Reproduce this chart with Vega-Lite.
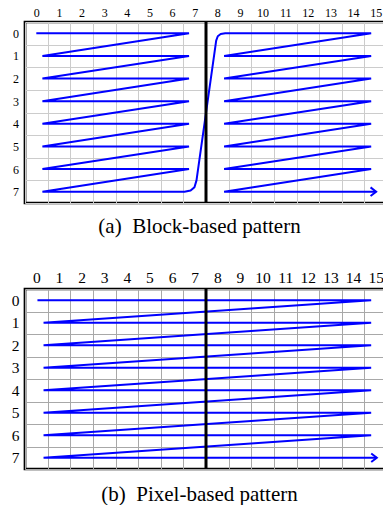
{
  "$schema": "https://vega.github.io/schema/vega-lite/v6.json",
  "padding": {"left": 9, "top": 5, "right": 0, "bottom": 0},
  "autosize": {"type": "pad"},
  "background": "white",
  "bounds": "flush",
  "spacing": 86,
  "config": {
    "font": "Liberation Serif",
    "view": {"stroke": "black", "strokeWidth": 2.7},
    "axis": {"labelFont": "Liberation Serif"},
    "title": {"font": "Liberation Serif", "fontWeight": "normal", "color": "black"}
  },
  "datasets": {
    "blockPath": [
      {"i": 0, "x": 0, "y": 0}, {"i": 1, "x": 6.75, "y": 0},
      {"i": 2, "x": 0.27, "y": 1}, {"i": 3, "x": 6.75, "y": 1},
      {"i": 4, "x": 0.27, "y": 2}, {"i": 5, "x": 6.75, "y": 2},
      {"i": 6, "x": 0.27, "y": 3}, {"i": 7, "x": 6.75, "y": 3},
      {"i": 8, "x": 0.27, "y": 4}, {"i": 9, "x": 6.75, "y": 4},
      {"i": 10, "x": 0.27, "y": 5}, {"i": 11, "x": 6.75, "y": 5},
      {"i": 12, "x": 0.27, "y": 6}, {"i": 13, "x": 6.75, "y": 6},
      {"i": 14, "x": 0.27, "y": 7}, {"i": 15, "x": 6.55, "y": 7},
      {"i": 16, "x": 6.82, "y": 6.95}, {"i": 17, "x": 6.99, "y": 6.8},
      {"i": 18, "x": 7.08, "y": 6.5}, {"i": 19, "x": 7.95, "y": 0.32},
      {"i": 20, "x": 8.02, "y": 0.13}, {"i": 21, "x": 8.15, "y": 0.03},
      {"i": 22, "x": 8.35, "y": 0}, {"i": 23, "x": 14.8, "y": 0},
      {"i": 24, "x": 8.3, "y": 1}, {"i": 25, "x": 14.8, "y": 1},
      {"i": 26, "x": 8.3, "y": 2}, {"i": 27, "x": 14.8, "y": 2},
      {"i": 28, "x": 8.3, "y": 3}, {"i": 29, "x": 14.8, "y": 3},
      {"i": 30, "x": 8.3, "y": 4}, {"i": 31, "x": 14.8, "y": 4},
      {"i": 32, "x": 8.3, "y": 5}, {"i": 33, "x": 14.8, "y": 5},
      {"i": 34, "x": 8.3, "y": 6}, {"i": 35, "x": 14.8, "y": 6},
      {"i": 36, "x": 8.3, "y": 7}, {"i": 37, "x": 15.02, "y": 7}
    ],
    "pixelPath": [
      {"i": 0, "x": 0.05, "y": 0}, {"i": 1, "x": 14.8, "y": 0},
      {"i": 2, "x": 0.32, "y": 1}, {"i": 3, "x": 14.8, "y": 1},
      {"i": 4, "x": 0.32, "y": 2}, {"i": 5, "x": 14.8, "y": 2},
      {"i": 6, "x": 0.32, "y": 3}, {"i": 7, "x": 14.8, "y": 3},
      {"i": 8, "x": 0.32, "y": 4}, {"i": 9, "x": 14.8, "y": 4},
      {"i": 10, "x": 0.32, "y": 5}, {"i": 11, "x": 14.8, "y": 5},
      {"i": 12, "x": 0.32, "y": 6}, {"i": 13, "x": 14.8, "y": 6},
      {"i": 14, "x": 0.32, "y": 7}, {"i": 15, "x": 15.05, "y": 7}
    ],
    "divider": [{"x": 7.5, "y": -0.5, "y2": 7.5}],
    "blockArrow": [{"x": 15.02, "y": 7}],
    "pixelArrow": [{"x": 15.05, "y": 7}]
  },
  "vconcat": [
    {
      "width": 362,
      "height": 181,
      "title": {"text": "(a)\u00a0\u00a0Block-based pattern", "orient": "bottom", "anchor": "middle", "fontSize": 21, "offset": -4, "dx": -6.5},
      "encoding": {
        "x": {"field": "x", "type": "quantitative",
          "scale": {"domain": [-0.5, 15.5], "nice": false, "zero": false},
          "axis": {"orient": "top", "title": null,
            "values": [-0.5, 0.5, 1.5, 2.5, 3.5, 4.5, 5.5, 6.5, 7.5, 8.5, 9.5, 10.5, 11.5, 12.5, 13.5, 14.5, 15.5],
            "labelExpr": "datum.value < 15 ? format(datum.value + 0.5, 'd') : ''",
            "labelOffset": 11.3, "labelPadding": 5.5, "labelBaseline": "alphabetic",
            "labelFontSize": 12, "labelFont": "Liberation Serif", "labelColor": "black",
            "labelOverlap": false, "labelFlush": false, "labelAngle": 0, "labelAlign": "center",
            "ticks": false, "domain": false, "grid": true, "gridColor": "#cccccc", "gridWidth": 1}},
        "y": {"field": "y", "type": "quantitative",
          "scale": {"domain": [-0.5, 7.5], "reverse": true, "nice": false, "zero": false},
          "axis": {"orient": "left", "title": null,
            "values": [-0.5, 0.5, 1.5, 2.5, 3.5, 4.5, 5.5, 6.5, 7.5],
            "labelExpr": "datum.value < 7 ? format(datum.value + 0.5, 'd') : ''",
            "labelOffset": 11.3, "labelPadding": 6.5, "labelBaseline": "middle",
            "labelFontSize": 12, "labelFont": "Liberation Serif", "labelColor": "black",
            "labelOverlap": false, "labelFlush": false, "labelAlign": "right",
            "ticks": false, "domain": false, "grid": true, "gridColor": "#cccccc", "gridWidth": 1}}
      },
      "layer": [
        {"data": {"name": "blockPath"},
         "mark": {"type": "line", "color": "#0000ff", "strokeWidth": 2, "strokeJoin": "bevel"},
         "encoding": {"order": {"field": "i", "type": "quantitative"}}},
        {"data": {"name": "divider"},
         "mark": {"type": "rule", "color": "black", "strokeWidth": 3},
         "encoding": {"y2": {"field": "y2"}}},
        {"data": {"name": "blockArrow"},
         "mark": {"type": "point", "shape": "M-1.3,-1L0,0L-1.3,1", "filled": false, "stroke": "#0000ff", "strokeWidth": 2, "size": 74, "opacity": 1}}
      ]
    },
    {
      "width": 362,
      "height": 180,
      "title": {"text": "(b)\u00a0\u00a0Pixel-based pattern", "orient": "bottom", "anchor": "middle", "fontSize": 21, "offset": -5, "dx": -6.5},
      "encoding": {
        "x": {"field": "x", "type": "quantitative",
          "scale": {"domain": [-0.5, 15.5], "nice": false, "zero": false},
          "axis": {"orient": "top", "title": null,
            "values": [-0.5, 0.5, 1.5, 2.5, 3.5, 4.5, 5.5, 6.5, 7.5, 8.5, 9.5, 10.5, 11.5, 12.5, 13.5, 14.5, 15.5],
            "labelExpr": "datum.value < 15 ? format(datum.value + 0.5, 'd') : ''",
            "labelOffset": 11.3, "labelPadding": 6.8, "labelBaseline": "alphabetic",
            "labelFontSize": 15.5, "labelFont": "Liberation Serif", "labelColor": "black",
            "labelOverlap": false, "labelFlush": false, "labelAngle": 0, "labelAlign": "center",
            "ticks": false, "domain": false, "grid": true, "gridColor": "#a8a8a8", "gridWidth": 1}},
        "y": {"field": "y", "type": "quantitative",
          "scale": {"domain": [-0.5, 7.5], "reverse": true, "nice": false, "zero": false},
          "axis": {"orient": "left", "title": null,
            "values": [-0.5, 0.5, 1.5, 2.5, 3.5, 4.5, 5.5, 6.5, 7.5],
            "labelExpr": "datum.value < 7 ? format(datum.value + 0.5, 'd') : ''",
            "labelOffset": 11.25, "labelPadding": 6, "labelBaseline": "middle",
            "labelFontSize": 15.5, "labelFont": "Liberation Serif", "labelColor": "black",
            "labelOverlap": false, "labelFlush": false, "labelAlign": "right",
            "ticks": false, "domain": false, "grid": true, "gridColor": "#a8a8a8", "gridWidth": 1}}
      },
      "layer": [
        {"data": {"name": "pixelPath"},
         "mark": {"type": "line", "color": "#0000ff", "strokeWidth": 2, "strokeJoin": "bevel"},
         "encoding": {"order": {"field": "i", "type": "quantitative"}}},
        {"data": {"name": "divider"},
         "mark": {"type": "rule", "color": "black", "strokeWidth": 3},
         "encoding": {"y2": {"field": "y2"}}},
        {"data": {"name": "pixelArrow"},
         "mark": {"type": "point", "shape": "M-1.3,-1L0,0L-1.3,1", "filled": false, "stroke": "#0000ff", "strokeWidth": 2, "size": 74, "opacity": 1}}
      ]
    }
  ]
}
